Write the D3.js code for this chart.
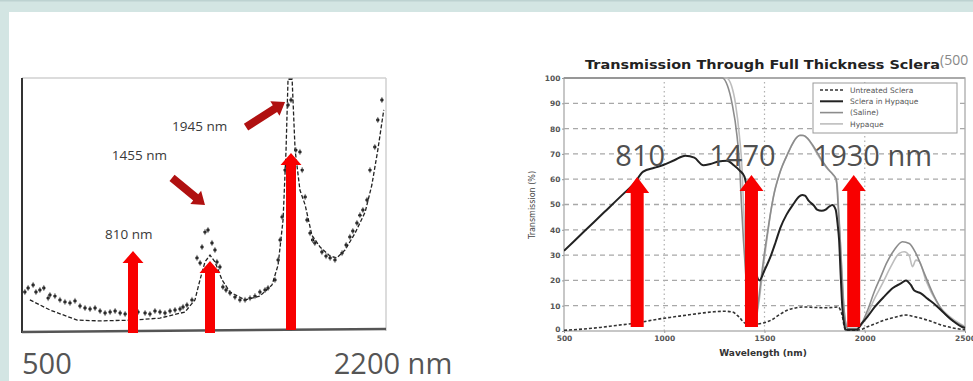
<!DOCTYPE html>
<html><head><meta charset="utf-8">
<script src="https://cdn.jsdelivr.net/npm/d3@7"></script>
<style>body{margin:0;background:#fff}svg{display:block}</style>
</head><body>
<svg id="c" width="973" height="381"></svg>
<script>
// ---------- LEFT PANEL DATA (absorbance, arbitrary units 0-100) ----------
const leftTicks = [500, 2200];
const leftDots = [[508,15.4],[517,17.0],[531,18.2],[539,15.4],[550,16.2],[561,17.0],[573,13.0],[578,14.2],[592,13.8],[606,12.3],[620,11.5],[634,11.1],[648,11.9],[662,9.9],[676,9.1],[690,8.7],[704,9.1],[718,7.9],[732,7.1],[746,7.5],[760,7.9],[774,7.1],[788,6.7],[810,7.1],[852,7.5],[911,7.1],[952,6.7],[994,7.9],[1036,7.5],[1078,7.1],[1120,7.9],[1162,8.3],[1204,8.7],[1229,9.5],[1262,10.3],[1304,12.3],[1346,28.9],[1372,26.9],[1388,33.2],[1413,39.1],[1438,39.9],[1467,34.8],[1485,32.0],[1497,27.3],[1515,25.3],[1533,17.4],[1552,16.2],[1576,15.0],[1606,13.4],[1636,12.3],[1667,12.3],[1697,13.0],[1727,13.8],[1757,15.4],[1788,16.2],[1806,17.0],[1848,20.2],[1867,28.1],[1879,36.0],[1891,45.1],[1909,63.6],[1927,89.3],[1945,91.3],[1958,71.5],[1969,70.8],[1975,63.6],[1983,53.0],[1988,43.9],[1996,38.7],[2003,36.0],[2009,34.8],[2028,31.2],[2039,29.6],[2050,28.9],[2063,28.1],[2082,30.8],[2093,34.0],[2103,37.2],[2111,39.5],[2122,42.7],[2130,45.8],[2138,47.8],[2149,51.8],[2157,63.6],[2170,72.7],[2178,83.4],[2189,91.3]];
const leftFit = [[522,12.3],[578,8.3],[654,4.3],[718,4.0],[810,4.3],[1036,5.1],[1245,7.5],[1329,12.3],[1371,20.2],[1413,27.3],[1455,30.0],[1485,27.3],[1528,20.2],[1576,15.4],[1667,12.3],[1757,13.8],[1830,18.2],[1867,26.1],[1897,43.9],[1915,71.5],[1927,99.5],[1948,99.5],[1956,71.5],[1969,55.7],[1983,49.8],[2001,37.9],[2023,33.2],[2050,29.6],[2068,28.9],[2090,32.0],[2117,38.7],[2144,47.0],[2162,57.7],[2178,71.5],[2194,87.4]];
const leftArrowWl = [810, 1455, 1945];
const leftArrowTip = [31.6, 27.7, 70.4];
const leftLabels = ["810 nm", "1455 nm", "1945 nm"];
const leftLabelPos = [[732,36.4],[751,67.6],[1137,79.1]];
const leftPointers = [[[1137,60.5],[1413,49.8]], [[1673,80.6],[1909,90.5]]];

// ---------- RIGHT PANEL DATA (transmission %) ----------
const rightXTicks = [500, 1000, 1500, 2000, 2500];
const rightYTicks = [0,10,20,30,40,50,60,70,80,90,100];
const seriesNames = ["Untreated Sclera", "Sclera in Hypaque", "(Saline)", "Hypaque"];
const untreated = [[500,0.3],[600,0.8],[680,1.4],[760,2.2],[847,3],[920,4],[995,5],[1050,5.6],[1113,6.3],[1180,7],[1247,7.6],[1300,7.8],[1340,7.5],[1372,5.6],[1405,3],[1440,2.5],[1483,3],[1533,4.3],[1575,6.5],[1617,8.3],[1660,9.2],[1700,9.5],[1750,9.3],[1800,9.2],[1840,9.3],[1867,9.5],[1880,8],[1888,6],[1897,2],[1905,0.3],[1960,0.3],[1990,0.8],[2013,1.7],[2050,2.8],[2097,4.3],[2150,5.4],[2205,6.3],[2250,5.6],[2313,4.3],[2380,2.4],[2440,1.2],[2500,0.5]];
const scleraHypaque = [[500,31.7],[600,39.3],[700,46.9],[800,54.5],[847,58],[895,63],[950,64.5],[995,65.6],[1050,67.5],[1105,69.3],[1150,68.5],[1195,65.5],[1230,66],[1270,67],[1313,67.3],[1347,65.5],[1375,63.5],[1400,61],[1415,55],[1425,49],[1435,40],[1442,31],[1458,23],[1475,20],[1500,24],[1533,30],[1555,35],[1580,41],[1610,46],[1647,50.5],[1670,53],[1688,53.8],[1702,53.5],[1720,51.5],[1747,49.5],[1762,48],[1785,47.5],[1805,48],[1820,49],[1838,49.8],[1855,48],[1865,42],[1872,36],[1880,22],[1888,9.6],[1897,3],[1905,0.5],[1960,0.5],[1985,3],[2013,5.6],[2050,9.5],[2097,13.6],[2140,17],[2180,18.8],[2205,20],[2230,18.2],[2247,16],[2280,14.9],[2313,12.8],[2350,10.5],[2397,7],[2440,4],[2488,1.5],[2500,1.2]];
const saline = [[500,100],[1290,100],[1315,97],[1338,90],[1363,77],[1377,64],[1385,50],[1395,36],[1405,24],[1415,14],[1425,7],[1440,4],[1455,5],[1470,12],[1485,22],[1500,31],[1517,40],[1533,48],[1550,55],[1567,60],[1583,64],[1610,69],[1633,73],[1655,76],[1675,77.3],[1695,77.3],[1717,76],[1740,73.5],[1767,70],[1790,67],[1817,64],[1840,62],[1858,60],[1867,50],[1876,38],[1885,24],[1895,10],[1905,3],[1915,1],[1960,1],[1985,3],[2013,8],[2050,16],[2080,21.5],[2110,27],[2147,32],[2188,35.3],[2222,34.6],[2255,30.7],[2297,22.8],[2347,13.6],[2397,7],[2430,4.5],[2463,3],[2500,1.5]];
const hypaque = [[500,100],[1310,100],[1335,97],[1355,90],[1375,77],[1388,64],[1395,50],[1403,36],[1412,24],[1422,14],[1432,7],[1445,4.5],[1460,6],[1475,13],[1490,23],[1505,32],[1520,41],[1535,49],[1552,56],[1570,61],[1590,65.5],[1615,70],[1640,74],[1660,76.5],[1680,77.5],[1700,77],[1720,75.5],[1745,72.5],[1770,69],[1795,66],[1820,63.5],[1845,61.5],[1862,58],[1870,48],[1878,36],[1887,22],[1897,9],[1907,2.5],[1917,1],[1960,1],[1985,2.5],[2013,6.5],[2050,13],[2090,19],[2130,25.4],[2172,30.7],[2197,31.3],[2222,29.7],[2238,25.4],[2255,28],[2272,27.5],[2305,20],[2363,10.9],[2447,4.3],[2500,1.8]];
const rightArrowWl = [865, 1435, 1945];
const rightArrowTip = [60.9, 61.7, 61.7];
const rightLabels = ["810", "1470", "1930 nm"];
const rightLabelPos = [[880,65.2],[1390,65.2],[1745,65.2]];

// ---------- DRAW ----------
const svg = d3.select("#c");
svg.append("rect").attr("width",973).attr("height",381).attr("fill","#d3e5e3");
svg.append("rect").attr("width",973).attr("height",1.5).attr("fill","#bdd2d1");
svg.append("rect").attr("x",9).attr("y",12).attr("width",964).attr("height",369).attr("fill","#fff");

// LEFT
const xL = d3.scaleLinear().domain([500,810,1455,1945,2200]).range([22,133,210,291,386]);
const yL = d3.scaleLinear().domain([0,100]).range([331,78]);
const gL = svg.append("g");
gL.append("line").attr("x1",xL(500)).attr("x2",xL(2200)).attr("y1",yL(100)).attr("y2",yL(100)).attr("stroke","#d0d0d0").attr("stroke-width",1.5);
gL.append("line").attr("x1",xL(2200)).attr("x2",xL(2200)).attr("y1",yL(100)).attr("y2",yL(0)).attr("stroke","#d0d0d0").attr("stroke-width",1.5);
gL.append("line").attr("x1",xL(500)).attr("x2",xL(500)).attr("y1",yL(100)).attr("y2",yL(0)+2).attr("stroke","#333").attr("stroke-width",2);
gL.append("line").attr("x1",xL(500)).attr("x2",xL(2200)).attr("y1",yL(0)+1).attr("y2",yL(0)-2).attr("stroke","#555").attr("stroke-width",2.5);

const lineL = d3.line().x(d=>xL(d[0])).y(d=>yL(d[1])).curve(d3.curveLinear);
gL.append("path").attr("d",lineL(leftFit)).attr("fill","none").attr("stroke","#222").attr("stroke-width",1.3).attr("stroke-dasharray","4,2");
gL.selectAll(".dot").data(leftDots).join("circle").attr("cx",d=>xL(d[0])).attr("cy",d=>yL(d[1])).attr("r",1.7).attr("fill","#111");
gL.selectAll(".err").data(leftDots).join("line").attr("x1",d=>xL(d[0])).attr("x2",d=>xL(d[0])).attr("y1",d=>yL(d[1])-3).attr("y2",d=>yL(d[1])+3).attr("stroke","#555").attr("stroke-width",0.8);

function vArrow(g, x, yTip, yBase, shaft, head, headLen, color){
  const p = [[x-shaft/2,yBase],[x-shaft/2,yTip+headLen],[x-head/2,yTip+headLen],[x,yTip],[x+head/2,yTip+headLen],[x+shaft/2,yTip+headLen],[x+shaft/2,yBase]];
  g.append("path").attr("d","M"+p.map(q=>q.join(",")).join("L")+"Z").attr("fill",color);
}
function dArrow(g, x1,y1,x2,y2, w, head, headLen, color){
  const dx=x2-x1, dy=y2-y1, L=Math.hypot(dx,dy), ux=dx/L, uy=dy/L, nx=-uy, ny=ux;
  const bx=x2-ux*headLen, by=y2-uy*headLen;
  const p=[[x1+nx*w/2,y1+ny*w/2],[bx+nx*w/2,by+ny*w/2],[bx+nx*head/2,by+ny*head/2],[x2,y2],[bx-nx*head/2,by-ny*head/2],[bx-nx*w/2,by-ny*w/2],[x1-nx*w/2,y1-ny*w/2]];
  g.append("path").attr("d","M"+p.map(q=>q.join(",")).join("L")+"Z").attr("fill",color);
}
leftArrowWl.forEach((wl,i)=>vArrow(gL, xL(wl), yL(leftArrowTip[i]), yL(0)+2-(i==2?3:0), 10, 21, 12, "#f80000"));
leftPointers.forEach(p=>dArrow(gL, xL(p[0][0]),yL(p[0][1]),xL(p[1][0]),yL(p[1][1]), 8, 17, 12, "#b01010"));
gL.selectAll(".lab").data(leftLabels).join("text").attr("x",(d,i)=>xL(leftLabelPos[i][0])).attr("y",(d,i)=>yL(leftLabelPos[i][1]))
  .attr("font-family","Open Sans").attr("font-size",13.5).attr("fill","#3a3a3a").text(d=>d);
gL.append("text").attr("x",xL(leftTicks[0])).attr("y",374).attr("font-family","Open Sans").attr("font-size",29).attr("fill","#555").text(leftTicks[0]);
gL.append("text").attr("x",xL(leftTicks[1])+7).attr("y",374).attr("text-anchor","middle").attr("font-family","Open Sans").attr("font-size",29).attr("fill","#555").text(leftTicks[1]+" nm");

// RIGHT
const xR = d3.scaleLinear().domain([500,2500]).range([564,965]);
const yR = d3.scaleLinear().domain([0,100]).range([331,78]);
const gR = svg.append("g");
gR.append("clipPath").attr("id","clipR").append("rect").attr("x",564).attr("y",77).attr("width",402).attr("height",256);
// grid
gR.selectAll(".hg").data(rightYTicks.filter(v=>v>0&&v<100)).join("line").attr("x1",xR(500)).attr("x2",xR(2500)).attr("y1",d=>yR(d)).attr("y2",d=>yR(d))
  .attr("stroke","#a8a8a8").attr("stroke-width",1.3).attr("stroke-dasharray","5,4");
gR.selectAll(".vg").data(rightXTicks.filter(v=>v>500&&v<2500)).join("line").attr("x1",d=>xR(d)).attr("x2",d=>xR(d)).attr("y1",yR(0)).attr("y2",yR(100))
  .attr("stroke","#b0b0b0").attr("stroke-width",1.2).attr("stroke-dasharray","1.5,3");
// frame
gR.append("rect").attr("x",xR(500)).attr("y",yR(100)).attr("width",xR(2500)-xR(500)).attr("height",yR(0)-yR(100)).attr("fill","none").attr("stroke","#b0b0b0").attr("stroke-width",1.4);
gR.append("line").attr("x1",xR(500)).attr("x2",xR(2500)).attr("y1",yR(100)).attr("y2",yR(100)).attr("stroke","#aaa").attr("stroke-width",2.2);
// axes
const ax = gR.append("g").attr("transform",`translate(${xR(500)},0)`).call(d3.axisLeft(yR).tickValues(rightYTicks).tickSize(2).tickPadding(1.5).tickFormat(d3.format("d")));
const ax2 = gR.append("g").attr("transform",`translate(0,${yR(0)})`).call(d3.axisBottom(xR).tickValues(rightXTicks).tickSize(2).tickPadding(3).tickFormat(d3.format("d")));
[ax,ax2].forEach(a=>{a.select(".domain").remove();a.selectAll("line").attr("stroke","#999");
  a.selectAll("text").attr("font-family","DejaVu Sans").attr("font-weight","bold").attr("font-size",7.5).attr("fill","#555");});
ax.selectAll(".tick").filter(d=>d===0).select("text").attr("dy","0.1em");
// series
const lineR = d3.line().x(d=>xR(d[0])).y(d=>yR(d[1])).curve(d3.curveMonotoneX);
const gc = gR.append("g").attr("clip-path","url(#clipR)");
gc.append("path").attr("d",lineR(hypaque)).attr("fill","none").attr("stroke","#bdbdbd").attr("stroke-width",1.6);
gc.append("path").attr("d",lineR(saline)).attr("fill","none").attr("stroke","#8c8c8c").attr("stroke-width",1.6);
gc.append("path").attr("d",lineR(untreated)).attr("fill","none").attr("stroke","#333").attr("stroke-width",1.6).attr("stroke-dasharray","3,2");
gc.append("path").attr("d",lineR(scleraHypaque)).attr("fill","none").attr("stroke","#222").attr("stroke-width",2);
// title
gR.append("text").attr("x",585).attr("y",69).attr("textLength",355).attr("lengthAdjust","spacingAndGlyphs").attr("font-family","DejaVu Sans").attr("font-weight","bold").attr("font-size",12).attr("fill","#222").text("Transmission Through Full Thickness Sclera");
gR.append("text").attr("x",940).attr("y",65).attr("font-family","Open Sans").attr("font-size",14).attr("fill","#888").text("(500");
gR.append("text").attr("x",763).attr("y",356).attr("text-anchor","middle").attr("font-family","DejaVu Sans").attr("font-weight","bold").attr("font-size",9).attr("fill","#333").text("Wavelength (nm)");
gR.append("text").attr("transform","translate(535,205) rotate(-90)").attr("text-anchor","middle").attr("font-family","DejaVu Sans").attr("font-size",8).attr("fill","#444").text("Transmission (%)");
// legend
const lg = gR.append("g");
lg.append("rect").attr("x",813).attr("y",83).attr("width",144).attr("height",50).attr("fill","#fff").attr("stroke","#999").attr("stroke-width",1);
const lgStyle = [["#333",1.6,"3,2"],["#222",2,null],["#8c8c8c",1.6,null],["#bdbdbd",1.6,null]];
seriesNames.forEach((n,i)=>{
  const y=90+i*11.3;
  lg.append("line").attr("x1",820).attr("x2",843).attr("y1",y).attr("y2",y).attr("stroke",lgStyle[i][0]).attr("stroke-width",lgStyle[i][1]).attr("stroke-dasharray",lgStyle[i][2]);
  lg.append("text").attr("x",850).attr("y",y+2.8).attr("font-family","DejaVu Sans").attr("font-size",7.5).attr("fill","#555").text(n);
});
// big labels
gR.selectAll(".bl").data(rightLabels).join("text").attr("x",(d,i)=>xR(rightLabelPos[i][0])).attr("y",(d,i)=>yR(rightLabelPos[i][1]))
  .attr("text-anchor",(d,i)=>i<2?"middle":"start").attr("font-family","Open Sans").attr("font-size",29).attr("fill","#505050").text(d=>d);
// arrows
rightArrowWl.forEach((wl,i)=>vArrow(gR, xR(wl), yR(rightArrowTip[i]), yR(1.6), 13, 24, 16, "#f80000"));
</script>
</body></html>
